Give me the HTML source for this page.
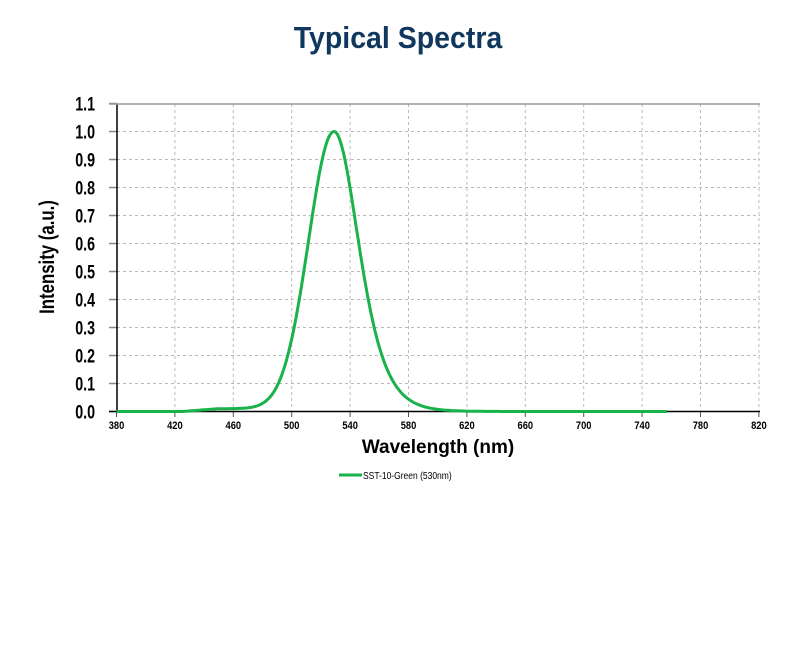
<!DOCTYPE html>
<html><head><style>body{margin:0;background:#fff}svg{display:block}</style></head>
<body>
<svg id="s" width="800" height="650" xmlns="http://www.w3.org/2000/svg" font-family="Liberation Sans, sans-serif">
<text transform="translate(398,48) scale(0.92,1)" text-anchor="middle" font-size="31" font-weight="bold" fill="#10385e">Typical Spectra</text>
<g id="grid"></g>
<line x1="117" y1="104" x2="117" y2="412" stroke="#000" stroke-width="1.5"/>
<line x1="109" y1="411.5" x2="760" y2="411.5" stroke="#000" stroke-width="1.5"/>
<line x1="109" y1="104" x2="760" y2="104" stroke="#999" stroke-width="1.5"/>
<path id="curve" fill="none" stroke="#19b24b" stroke-width="3" stroke-linejoin="round"/>
<text transform="translate(54,257) rotate(-90) scale(0.8,1)" text-anchor="middle" font-size="21" font-weight="bold">Intensity (a.u.)</text>
<text x="438" y="453" text-anchor="middle" font-size="19" font-weight="bold">Wavelength (nm)</text>
<line x1="339" y1="475" x2="362" y2="475" stroke="#19b24b" stroke-width="3"/>
<text transform="translate(363,479) scale(0.85,1)" font-size="10">SST-10-Green (530nm)</text>
</svg>
<script>
var ns="http://www.w3.org/2000/svg",g=document.getElementById('grid');
function el(n,a,t){var e=document.createElementNS(ns,n);for(var k in a)e.setAttribute(k,a[k]);if(t)e.textContent=t;g.appendChild(e);return e;}
var X=function(nm){return 116.5+(nm-380)*58.4/40},Y=function(v){return 411.5-v*280};
for(var i=0;i<=11;i++){var y=Y(i/10);
 if(i>0&&i<11)el('line',{x1:117,x2:760,y1:y,y2:y,stroke:'#bbb','stroke-dasharray':'3,3'});
 el('line',{x1:109,x2:117,y1:y,y2:y,stroke:'#888','stroke-width':1.5});
 el('text',{transform:'translate(95,'+(y+7)+') scale(0.75,1)','text-anchor':'end','font-size':19,'font-weight':'bold'},(i/10).toFixed(1));}
for(var j=0;j<=11;j++){var nm=380+40*j,x=X(nm);
 if(j>0)el('line',{x1:x,x2:x,y1:104,y2:411,stroke:'#bbb','stroke-dasharray':'3,3'});
 el('line',{x1:x,x2:x,y1:411,y2:417,stroke:'#555'});
 el('text',{transform:'translate('+x+',429) scale(0.85,1)','text-anchor':'middle','font-size':11,'font-weight':'bold'},nm);}
var d='';
for(var nm=380;nm<=757;nm+=1){var v,dx=nm-529;
 if(dx<0)v=Math.exp(-dx*dx/(2*17.4*17.4));else{var s=1/Math.cosh(0.044*dx);v=s*s;}
 if(nm>425&&nm<529)v+=0.01*Math.min(1,(nm-425)/25)*Math.min(1,(529-nm)/30);
 d+=(d?'L':'M')+X(nm).toFixed(1)+','+Y(v).toFixed(1);}
document.getElementById('curve').setAttribute('d',d);
</script>
</body></html>
